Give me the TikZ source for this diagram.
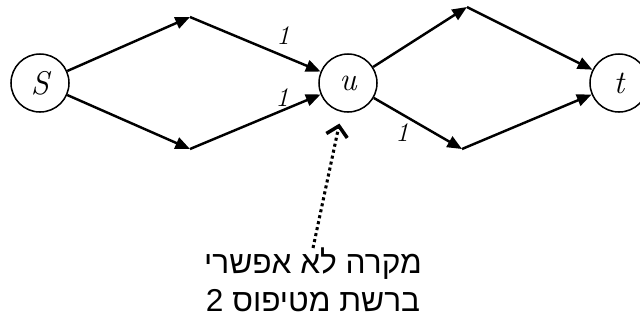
\documentclass[tikz,border=0pt]{standalone}
\usepackage{fontspec}
\usepackage{tikz}
\usetikzlibrary{positioning,arrows.meta}
\TeXXeTstate=1
\newfontfamily\hebfont[Script=Hebrew]{Liberation Sans}
\tikzset{
  vtx/.style={circle,draw=black,line width=1.3pt,minimum size=1.74cm,inner sep=0pt,font=\fontsize{28}{32}\selectfont\itshape},
  edg/.style={-{Triangle[length=4.4mm,width=3.6mm]},line width=2.1pt},
  wlbl/.style={font=\fontsize{23}{28}\selectfont\itshape,inner sep=1pt},
  hint/.style={-{Straight Barb[length=3mm,width=6.4mm,line width=3pt]},line width=2.6pt,dash pattern=on 2.6pt off 2.6pt},
}

\begin{document}
\begin{tikzpicture}[x=0.03cm,y=-0.03cm]
  \useasboundingbox (0,0) rectangle (640,322);
  % vertices
  \node[vtx] (S) at (40,83) {S};
  \node[vtx] (u) at (348,83) {u};
  \node[vtx] (t) at (619,83) {t};
  \coordinate (a1) at (190,17);
  \coordinate (a2) at (190,149);
  \coordinate (b1) at (467,7);
  \coordinate (b2) at (462,149);
  % paths S -> u -> t
  \foreach \m/\n in {S/a1,a1/u,S/a2,a2/u,u/b1,b1/t,u/b2,b2/t}{\draw[edg] (\m) -- (\n);}
  \node[wlbl] (w1) at (283,36) {1};
  \node[wlbl] (w2) at (282,98) {1};
  \node[wlbl] (w3) at (402,133) {1};
  % remark
  \node[align=center,font=\hebfont\fontsize{27}{32}\selectfont,anchor=north,inner sep=0pt] (note) at (313,248)
    {\beginR מקרה לא אפשרי\endR\\ \beginR ברשת מטיפוס 2\endR};
  \draw[hint,shorten >=10pt] (note.north) -- (u);
\end{tikzpicture}
\end{document}
